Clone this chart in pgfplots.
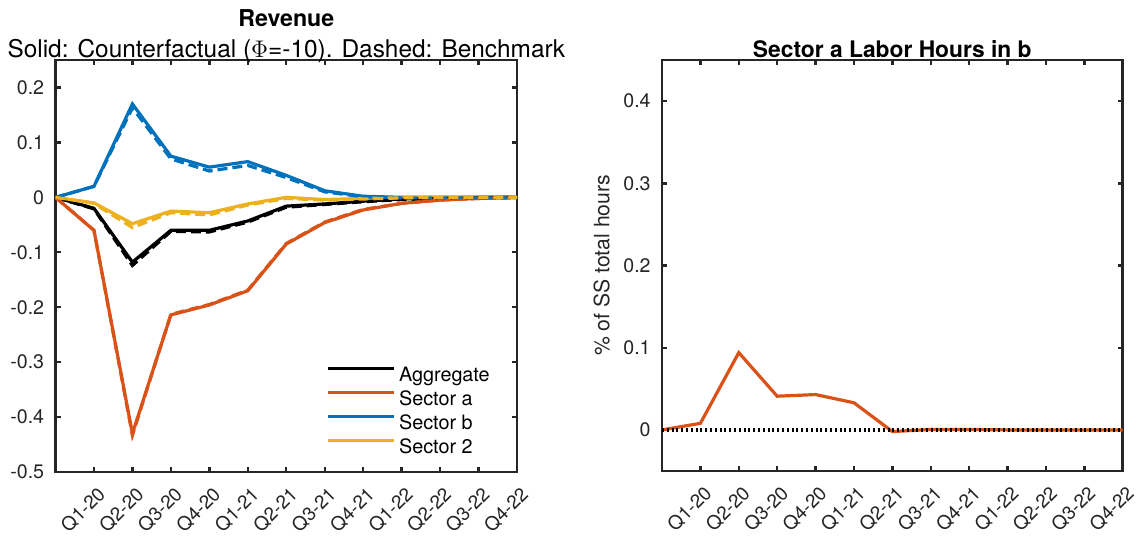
\documentclass[border=0pt]{standalone}
\usepackage{pgfplots}
\pgfplotsset{compat=1.18}
\usepackage{fontspec}
\setmainfont{TeX Gyre Heros}
\definecolor{mred}{rgb}{0.85,0.325,0.098}
\definecolor{mblue}{rgb}{0,0.447,0.741}
\definecolor{myellow}{rgb}{0.929,0.694,0.125}
\definecolor{axgray}{rgb}{0.15,0.15,0.15}
\begin{document}
\begin{tikzpicture}
\useasboundingbox (-27.75pt,-33pt) rectangle (543.25pt,236pt);
\pgfplotsset{
  mstyle/.style={
    scale only axis,
    axis line style={line width=1.3pt, draw=axgray},
    every tick/.style={line width=1.2pt, draw=axgray},
    major tick length=2.6pt,
    tick align=inside,
    xmin=0, xmax=12, xtick={1,...,12},
    xticklabels={Q1-20,Q2-20,Q3-20,Q4-20,Q1-21,Q2-21,Q3-21,Q4-21,Q1-22,Q2-22,Q3-22,Q4-22},
    tick label style={font=\fontsize{9.8}{11}\selectfont, text=axgray},
    xticklabel style={font=\fontsize{9.5}{11}\selectfont, inner sep=0pt, xshift=4pt, yshift=-9.5pt, rotate=45, anchor=east},
    yticklabel style={inner sep=0pt, anchor=east, xshift=-5.5pt},
  },
  sol/.style={line width=1.6pt},
  das/.style={line width=1.6pt, dash pattern=on 5pt off 2.5pt, forget plot},
}
\begin{axis}[mstyle,
  at={(0pt,0pt)}, anchor=south west,
  width=230.75pt, height=206pt,
  ymin=-0.5, ymax=0.25,
  ytick={-0.5,-0.4,-0.3,-0.2,-0.1,0,0.1,0.2},
  yticklabels={-0.5,-0.4,-0.3,-0.2,-0.1,0,0.1,0.2},
  legend style={draw=none, fill=none, at={(rel axis cs:0.588,0.2556)}, anchor=north west,
    inner sep=0pt, outer sep=0pt, font=\fontsize{9.9}{11}\selectfont, row sep=2.67pt,
    nodes={inner sep=0pt, text height=7pt, text depth=2pt}},
  legend image code/.code={\draw[#1, line width=1.6pt, solid] (0pt,4pt) -- (33pt,4pt);},
  legend cell align=left,
  /tikz/every odd column/.append style={column sep=1.5pt},
]
\addplot[sol, black] coordinates {(0,0) (1,-0.020) (2,-0.118) (3,-0.060) (4,-0.060) (5,-0.043) (6,-0.016) (7,-0.012) (8,-0.007) (9,-0.003) (10,-0.001) (11,0) (12,0)};
\addlegendentry{Aggregate}
\addplot[sol, mred] coordinates {(0,0) (1,-0.060) (2,-0.430) (3,-0.214) (4,-0.196) (5,-0.170) (6,-0.085) (7,-0.046) (8,-0.023) (9,-0.011) (10,-0.005) (11,-0.002) (12,0)};
\addlegendentry{Sector a}
\addplot[sol, mblue] coordinates {(0,0) (1,0.020) (2,0.170) (3,0.075) (4,0.055) (5,0.065) (6,0.040) (7,0.012) (8,0.002) (9,0) (10,0) (11,0) (12,0)};
\addlegendentry{Sector b}
\addplot[sol, myellow] coordinates {(0,0) (1,-0.010) (2,-0.048) (3,-0.025) (4,-0.028) (5,-0.012) (6,0) (7,-0.004) (8,-0.002) (9,-0.001) (10,0) (11,0) (12,0)};
\addlegendentry{Sector 2}
\addplot[das, black] coordinates {(0,0) (1,-0.021) (2,-0.124) (3,-0.062) (4,-0.063) (5,-0.045) (6,-0.018) (7,-0.013) (8,-0.008) (9,-0.004) (10,-0.002) (11,-0.001) (12,0)};
\addplot[das, mred] coordinates {(0,0) (1,-0.060) (2,-0.433) (3,-0.213) (4,-0.195) (5,-0.169) (6,-0.084) (7,-0.045) (8,-0.022) (9,-0.011) (10,-0.005) (11,-0.002) (12,-0.001)};
\addplot[das, mblue] coordinates {(0,0) (1,0.020) (2,0.163) (3,0.070) (4,0.048) (5,0.058) (6,0.036) (7,0.010) (8,0.001) (9,-0.001) (10,-0.001) (11,-0.001) (12,-0.001)};
\addplot[das, myellow] coordinates {(0,0) (1,-0.011) (2,-0.055) (3,-0.028) (4,-0.032) (5,-0.014) (6,-0.002) (7,-0.005) (8,-0.003) (9,-0.001) (10,0) (11,0) (12,0)};
\end{axis}
\begin{axis}[mstyle,
  at={(303.25pt,0.5pt)}, anchor=south west,
  width=230.35pt, height=205.5pt,
  ymin=-0.05, ymax=0.45,
  ytick={0,0.1,0.2,0.3,0.4},
  yticklabels={0,0.1,0.2,0.3,0.4},
]
\addplot[sol, mred] coordinates {(0,0) (1,0.008) (2,0.094) (3,0.041) (4,0.043) (5,0.033) (6,-0.002) (7,0.0005) (8,0.0005) (9,0) (10,0) (11,0) (12,0)};
\addplot[line width=1.6pt, black, dash pattern=on 1pt off 1.4pt] coordinates {(0,0) (12,0)};
\end{axis}
\node[anchor=base, font=\bfseries\fontsize{11.6}{13}\selectfont] at (115.4pt,223pt) {Revenue};
\node[anchor=base, font=\fontsize{12.2}{14}\selectfont] at (115.4pt,207.2pt) {Solid: Counterfactual ($\Phi$=-10). Dashed: Benchmark};
\node[anchor=base, font=\bfseries\fontsize{11.4}{13}\selectfont] at (418.4pt,207.2pt) {Sector a Labor Hours in b};
\node[rotate=90, font=\fontsize{10.6}{12}\selectfont, text=axgray] at (273.1pt,103.3pt) {\% of SS total hours};
\end{tikzpicture}
\end{document}
